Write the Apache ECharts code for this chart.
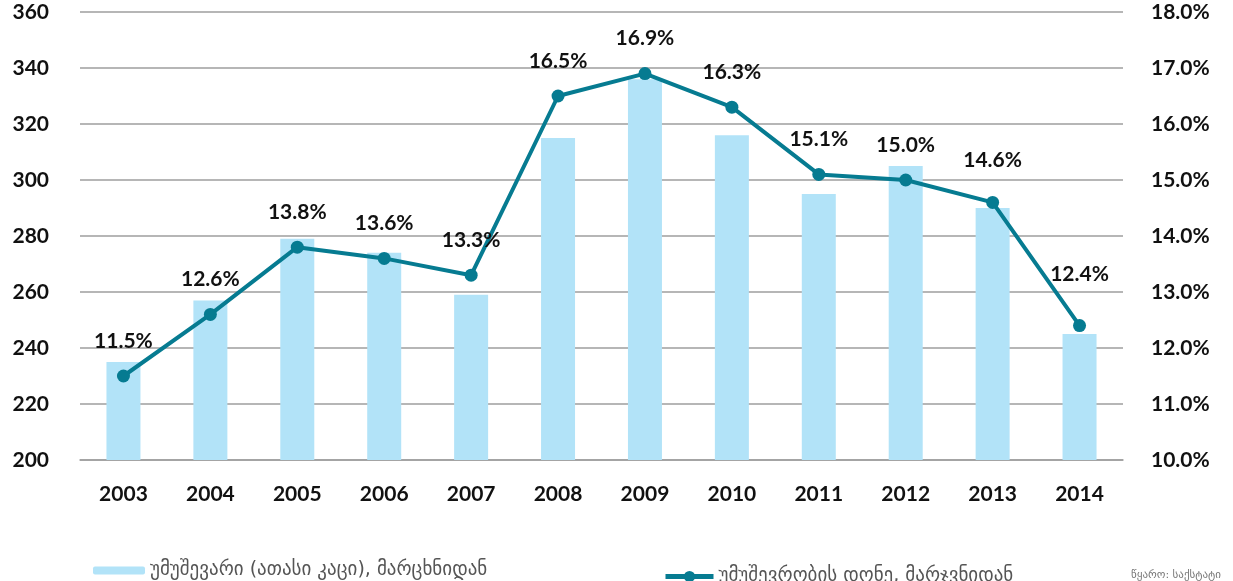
<!DOCTYPE html>
<html>
<head>
<meta charset="utf-8">
<script src="https://cdn.jsdelivr.net/npm/echarts@6/dist/echarts.min.js"></script>
<style>
    html, body { margin: 0; padding: 0; background: #fff; }
    #chart { width: 1233px; height: 581px; }
</style>
</head>
<body>
<div id="chart"></div>
<script>
// წლები
const years = ['2003', '2004', '2005', '2006', '2007', '2008', '2009', '2010', '2011', '2012', '2013', '2014'];
// უმუშევარი, ათასი კაცი
const unemployed = [235, 257, 279, 274, 259, 315, 336, 316, 295, 305, 290, 245];
// უმუშევრობის დონე, %
const rate = [11.5, 12.6, 13.8, 13.6, 13.3, 16.5, 16.9, 16.3, 15.1, 15.0, 14.6, 12.4];

const barName = 'უმუშევარი (ათასი კაცი), მარცხნიდან';
const lineName = 'უმუშევრობის დონე, მარჯვნიდან';
const source = 'წყარო: საქსტატი';

const numFont = 'Lato, "Noto Sans", sans-serif';
const geoFont = '"DejaVu Sans", sans-serif';
const lineColor = '#067b91';

// label offsets that differ from the default
const labelDist = { 10: 25, 11: 34 };

const myChart = echarts.init(document.getElementById('chart'));

const option = {
    animation: false,
    grid: { left: 80, right: 110, top: 12, bottom: 121 },
    legend: [
        {
            data: [barName],
            left: 88, top: 556,
            itemWidth: 52, itemHeight: 8, itemGap: 8,
            textStyle: { fontFamily: geoFont, fontSize: 19, color: '#555' }
        },
        {
            data: [lineName],
            left: 658, top: 562,
            itemWidth: 48, itemHeight: 14,
            lineStyle: { width: 5 },
            textStyle: { fontFamily: geoFont, fontSize: 19, color: '#555' }
        }
    ],
    graphic: [{
        type: 'text',
        right: 12, top: 570,
        style: { text: source, fontFamily: geoFont, fontSize: 11, fill: '#777' }
    }],
    xAxis: {
        type: 'category',
        data: years,
        axisLine: { lineStyle: { color: '#9e9e9e', width: 1.5 } },
        axisTick: { show: false },
        axisLabel: { fontFamily: numFont, fontWeight: 'bold', fontSize: 21, color: '#111', margin: 24 }
    },
    yAxis: [
        {
            type: 'value',
            min: 200, max: 360, interval: 20,
            axisLine: { show: false },
            axisTick: { show: false },
            axisLabel: { fontFamily: numFont, fontWeight: 'bold', fontSize: 21, color: '#111', margin: 31 },
            splitLine: { lineStyle: { color: '#9e9e9e', width: 1.5 } }
        },
        {
            type: 'value',
            min: 10, max: 18, interval: 1,
            axisLine: { show: false },
            axisTick: { show: false },
            splitLine: { show: false },
            axisLabel: {
                fontFamily: numFont, fontWeight: 'bold', fontSize: 21, color: '#111', margin: 28,
                formatter: v => v.toFixed(1) + '%'
            }
        }
    ],
    series: [
        {
            name: barName,
            type: 'bar',
            data: unemployed,
            barWidth: 34,
            itemStyle: { color: '#b2e3f8' }
        },
        {
            name: lineName,
            type: 'line',
            yAxisIndex: 1,
            data: rate.map((v, i) => ({
                value: v,
                label: labelDist[i] ? { distance: labelDist[i] } : undefined
            })),
            symbol: 'circle',
            symbolSize: 13,
            lineStyle: { color: lineColor, width: 4 },
            itemStyle: { color: lineColor },
            label: {
                show: true,
                position: 'top',
                distance: 18,
                fontFamily: numFont,
                fontWeight: 'bold',
                fontSize: 21,
                color: '#111',
                formatter: p => p.value.toFixed(1) + '%'
            }
        }
    ]
};

myChart.setOption(option);
</script>
</body>
</html>
